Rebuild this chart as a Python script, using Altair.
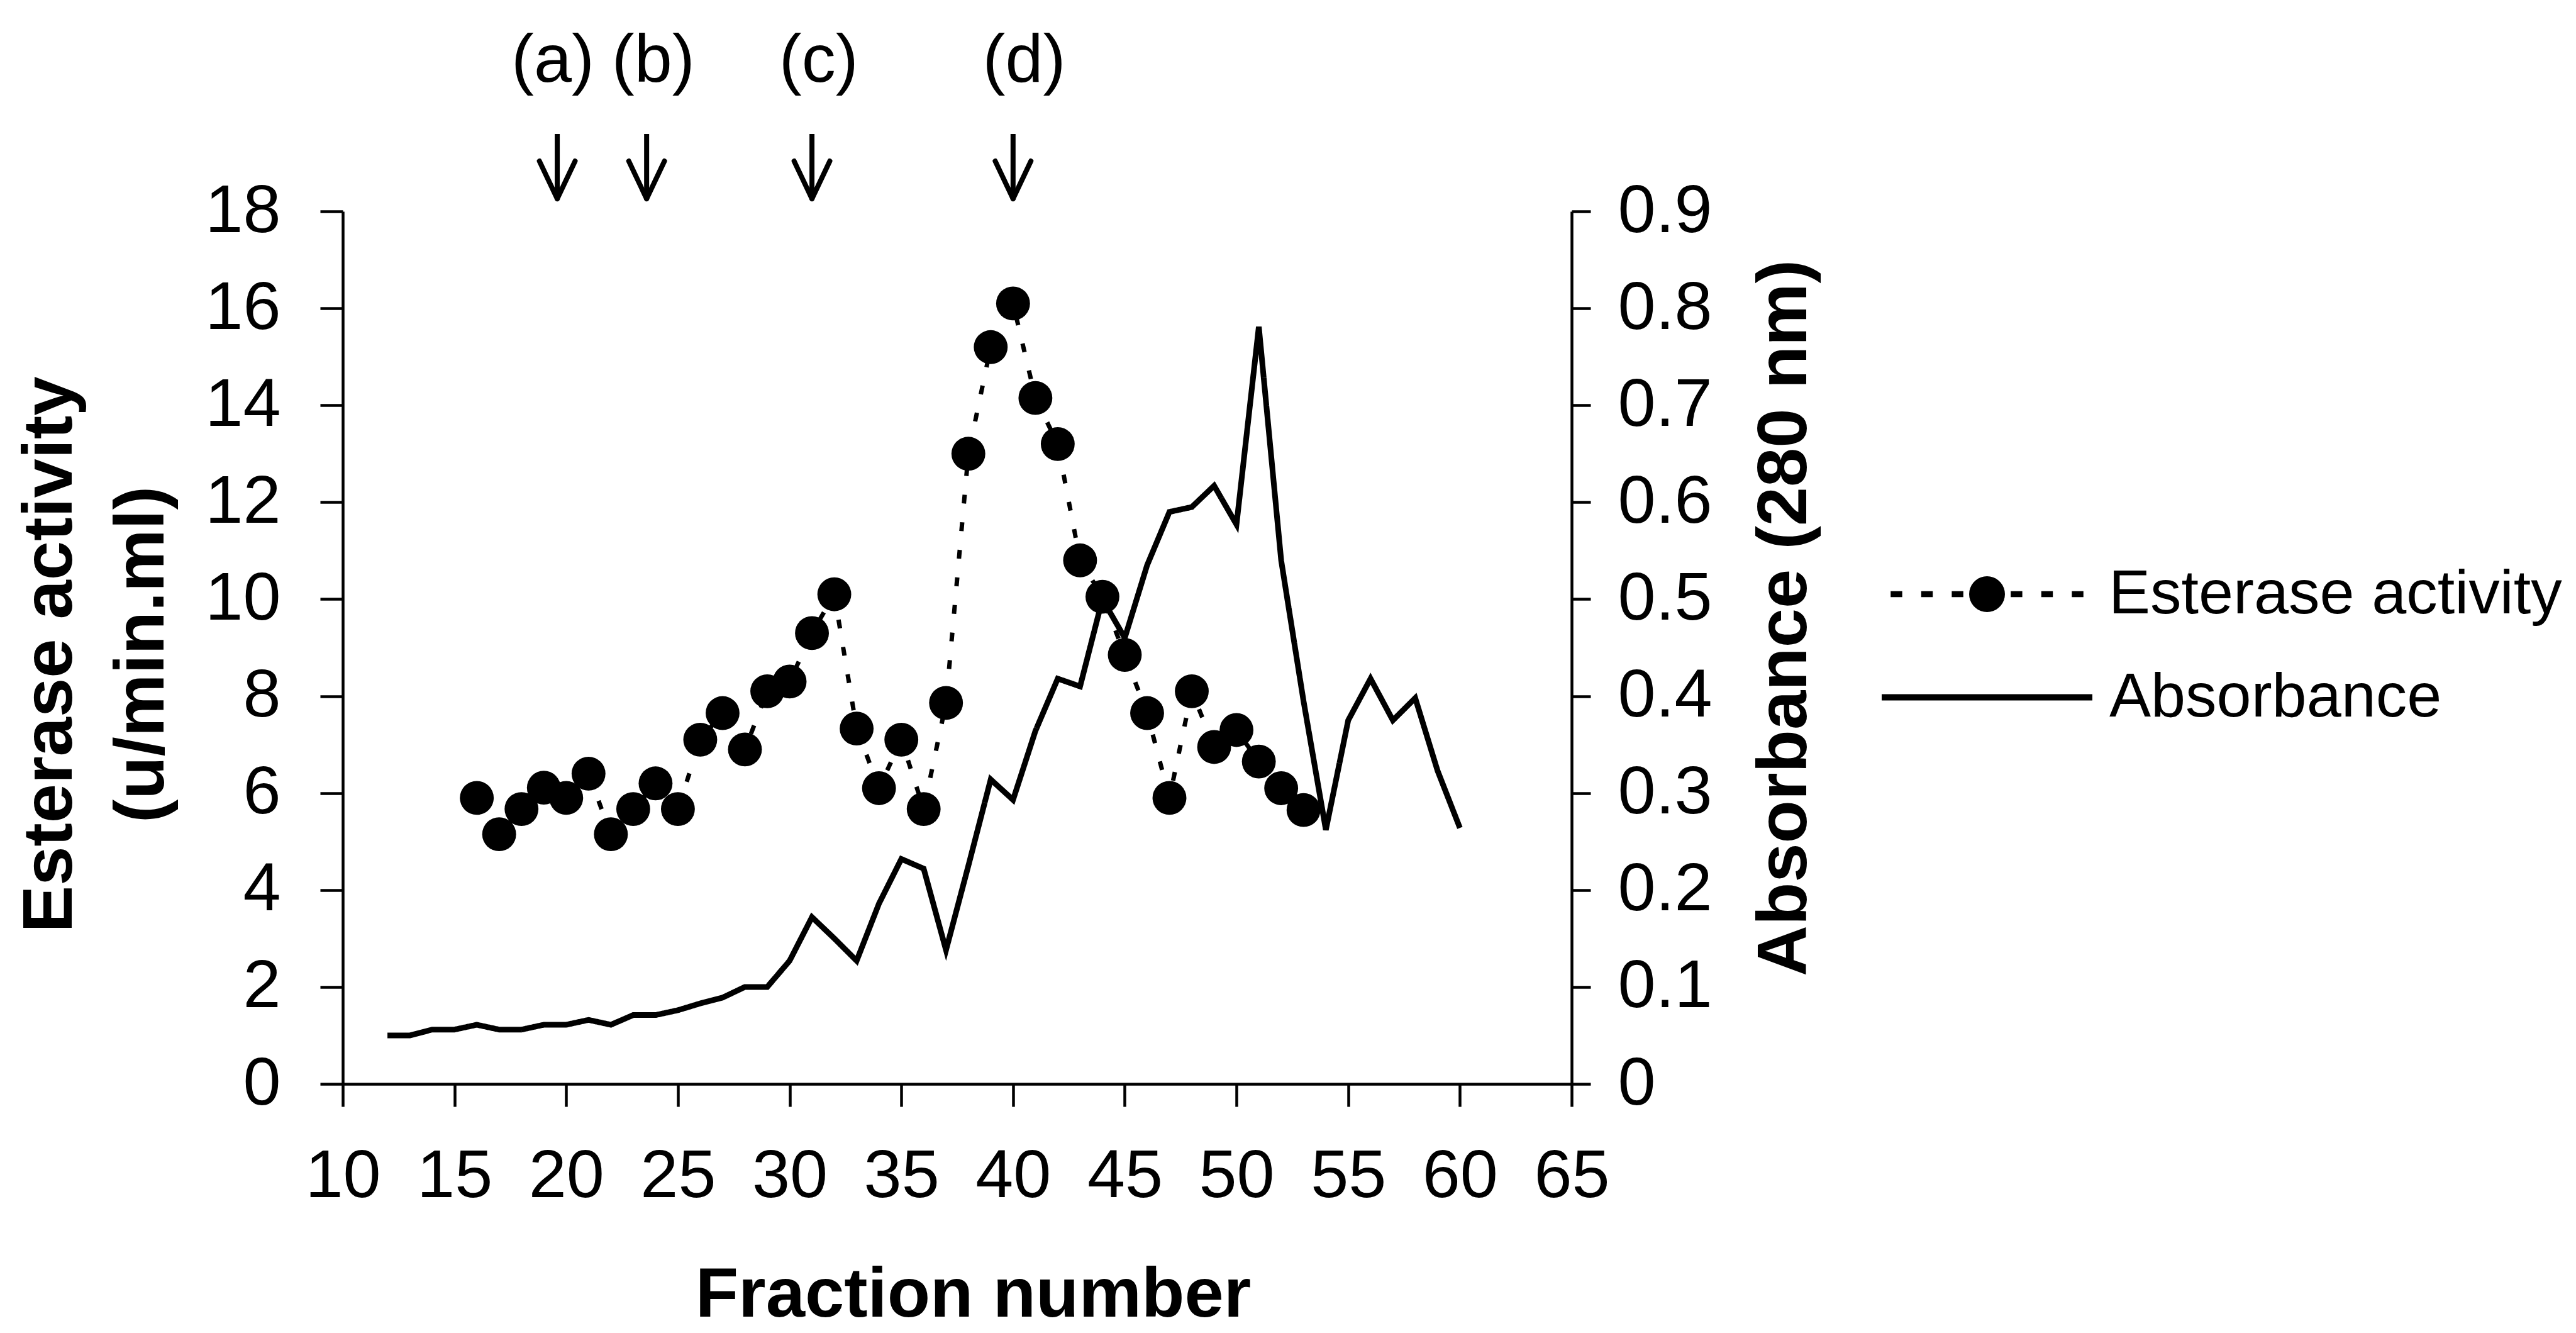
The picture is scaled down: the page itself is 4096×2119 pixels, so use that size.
import math
import altair as alt
import pandas as pd

# ---------------- data ----------------
est_fraction = list(range(16, 54))
est_activity = [5.9, 5.15, 5.67, 6.11, 5.9, 6.4, 5.15, 5.67, 6.2, 5.67,
                7.1, 7.65, 6.9, 8.1, 8.3, 9.3, 10.1, 7.33, 6.1, 7.1,
                5.67, 7.86, 13.0, 15.2, 16.1, 14.15, 13.2, 10.8, 10.05, 8.85,
                7.65, 5.9, 8.1, 6.95, 7.3, 6.65, 6.1, 5.65]

abs_fraction = list(range(12, 61))
abs_value = [0.050, 0.050, 0.056, 0.056, 0.061, 0.056, 0.056, 0.061, 0.061, 0.066,
             0.061, 0.071, 0.071, 0.076, 0.083, 0.089, 0.100, 0.100, 0.127, 0.172,
             0.150, 0.127, 0.186, 0.232, 0.222, 0.138, 0.225, 0.314, 0.293, 0.364,
             0.418, 0.410, 0.500, 0.460, 0.535, 0.590, 0.595, 0.617, 0.577, 0.781,
             0.540, 0.395, 0.262, 0.375, 0.418, 0.375, 0.398, 0.323, 0.264]

mark_labels = ["(a)", "(b)", "(c)", "(d)"]
mark_label_x = [19.4, 23.9, 31.3, 40.5]
mark_arrow_x = [19.6, 23.6, 31.0, 40.0]

x_ticks = [10, 15, 20, 25, 30, 35, 40, 45, 50, 55, 60, 65]
y_left_ticks = [0, 2, 4, 6, 8, 10, 12, 14, 16, 18]
y_right_ticks = [0, 0.1, 0.2, 0.3, 0.4, 0.5, 0.6, 0.7, 0.8, 0.9]

S_EST = "Esterase activity"
S_ABS = "Absorbance"

est_df = pd.DataFrame({"fraction": est_fraction, "value": est_activity, "series": S_EST})
abs_df = pd.DataFrame({"fraction": abs_fraction, "value": abs_value, "series": S_ABS})
ann_df = pd.DataFrame({"label": mark_labels, "lx": mark_label_x, "ax": mark_arrow_x})
HEAD = 0.8
ann_df["hl"] = ann_df["ax"] - HEAD
ann_df["hr"] = ann_df["ax"] + HEAD

# ---------------- styling ----------------
FONT = "Liberation Sans"
TITLE_SIZE = 112
W, H = 1954, 1387
PAD = {"left": 545, "top": 336, "right": 4096 - 545 - W, "bottom": 2119 - 336 - H}


def rect(cx, hw, hh):
    return (f"M{cx - hw:.3f},{-hh:.3f}L{cx + hw:.3f},{-hh:.3f}"
            f"L{cx + hw:.3f},{hh:.3f}L{cx - hw:.3f},{hh:.3f}Z")


circle_path = "M" + "L".join(
    f"{0.17 * math.cos(2 * math.pi * k / 36):.4f},{0.17 * math.sin(2 * math.pi * k / 36):.4f}"
    for k in range(36)) + "Z"
est_symbol = "".join(rect(c, 0.055, 0.028) for c in (-0.86, -0.57, -0.28, 0.28, 0.57, 0.86)) + circle_path

x_scale = alt.Scale(domain=[10, 65], nice=False, zero=False)
x_axis = alt.Axis(values=x_ticks, title="Fraction number", titleX=1002, titleY=369,
                  titleBaseline="alphabetic", titleAlign="center",
                  labelPadding=58, tickSize=36)

yl_scale = alt.Scale(domain=[0, 18], nice=False)
yl_axis = alt.Axis(values=y_left_ticks, title=["Esterase activity", "(u/min.ml)"], orient="left",
                   titleX=-466, titleY=704, titleAngle=270, titleBaseline="middle",
                   titleAlign="center", titleLineHeight=146, labelPadding=63, tickSize=36)

yr_scale = alt.Scale(domain=[0, 0.9], nice=False)
yr_axis = alt.Axis(values=y_right_ticks, title="Absorbance (280 nm)", orient="right", format=".1~f",
                   titleX=338, titleY=646, titleAngle=270, titleBaseline="middle",
                   titleAlign="center", labelPadding=43, tickSize=30)

est_legend = alt.Legend(title=None, orient="none", legendX=2447, legendY=441,
                        symbolType=est_symbol, symbolSize=112225, symbolStrokeWidth=0,
                        labelFont=FONT, labelFontSize=99, labelColor="black",
                        labelOffset=26, labelLimit=0, padding=0)
abs_legend = alt.Legend(title=None, orient="none", legendX=2442, legendY=600,
                        symbolType="stroke", symbolSize=112225, symbolStrokeWidth=10,
                        symbolStrokeColor="black",
                        labelFont=FONT, labelFontSize=99, labelColor="black",
                        labelOffset=22, labelLimit=0, padding=0)

x_enc = alt.X("fraction:Q", scale=x_scale, axis=x_axis)

est_line = alt.Chart(est_df).mark_line(
    color="black", strokeWidth=7, strokeDash=[14, 30], strokeCap="butt"
).encode(x=x_enc, y=alt.Y("value:Q", scale=yl_scale, axis=yl_axis))

est_pts = alt.Chart(est_df).mark_circle(size=2900, opacity=1).encode(
    x=x_enc,
    y=alt.Y("value:Q", scale=yl_scale, axis=yl_axis),
    color=alt.Color("series:N", scale=alt.Scale(domain=[S_EST], range=["black"]), legend=est_legend),
)

shaft = alt.Chart(ann_df).mark_rule(color="black", strokeWidth=8).encode(
    x=alt.X("ax:Q", scale=x_scale, axis=x_axis), y=alt.value(-123), y2=alt.value(-22))
head_l = alt.Chart(ann_df).mark_rule(color="black", strokeWidth=8, strokeCap="round").encode(
    x=alt.X("ax:Q", scale=x_scale, axis=x_axis), x2="hl:Q", y=alt.value(-20), y2=alt.value(-80))
head_r = alt.Chart(ann_df).mark_rule(color="black", strokeWidth=8, strokeCap="round").encode(
    x=alt.X("ax:Q", scale=x_scale, axis=x_axis), x2="hr:Q", y=alt.value(-20), y2=alt.value(-80))
ann_text = alt.Chart(ann_df).mark_text(
    font=FONT, fontSize=108, color="black", baseline="alphabetic", align="center"
).encode(x=alt.X("lx:Q", scale=x_scale, axis=x_axis), y=alt.value(-206), text="label:N")

abs_line = alt.Chart(abs_df).mark_line(color="black", strokeWidth=9, strokeJoin="miter").encode(
    x=x_enc,
    y=alt.Y("value:Q", scale=yr_scale, axis=yr_axis),
    strokeDash=alt.StrokeDash("series:N", scale=alt.Scale(domain=[S_ABS], range=[[1, 0]]),
                              legend=abs_legend),
)

left = alt.layer(est_line, est_pts, shaft, head_l, head_r, ann_text)
chart = alt.layer(left, abs_line).resolve_scale(y="independent").properties(
    width=W, height=H,
    autosize=alt.AutoSizeParams(type="none"),
    padding=PAD,
    background="white",
).configure_axis(
    labelFont=FONT, labelFontSize=108, labelColor="black",
    titleFont=FONT, titleFontSize=TITLE_SIZE, titleFontWeight="bold", titleColor="black",
    domainColor="black", tickColor="black", domainWidth=4.5, tickWidth=4.5,
    grid=False, labelFlush=False, labelOverlap=False,
).configure_view(strokeWidth=0)

chart.save("out.html", embed_options={"renderer": "svg", "actions": False})
